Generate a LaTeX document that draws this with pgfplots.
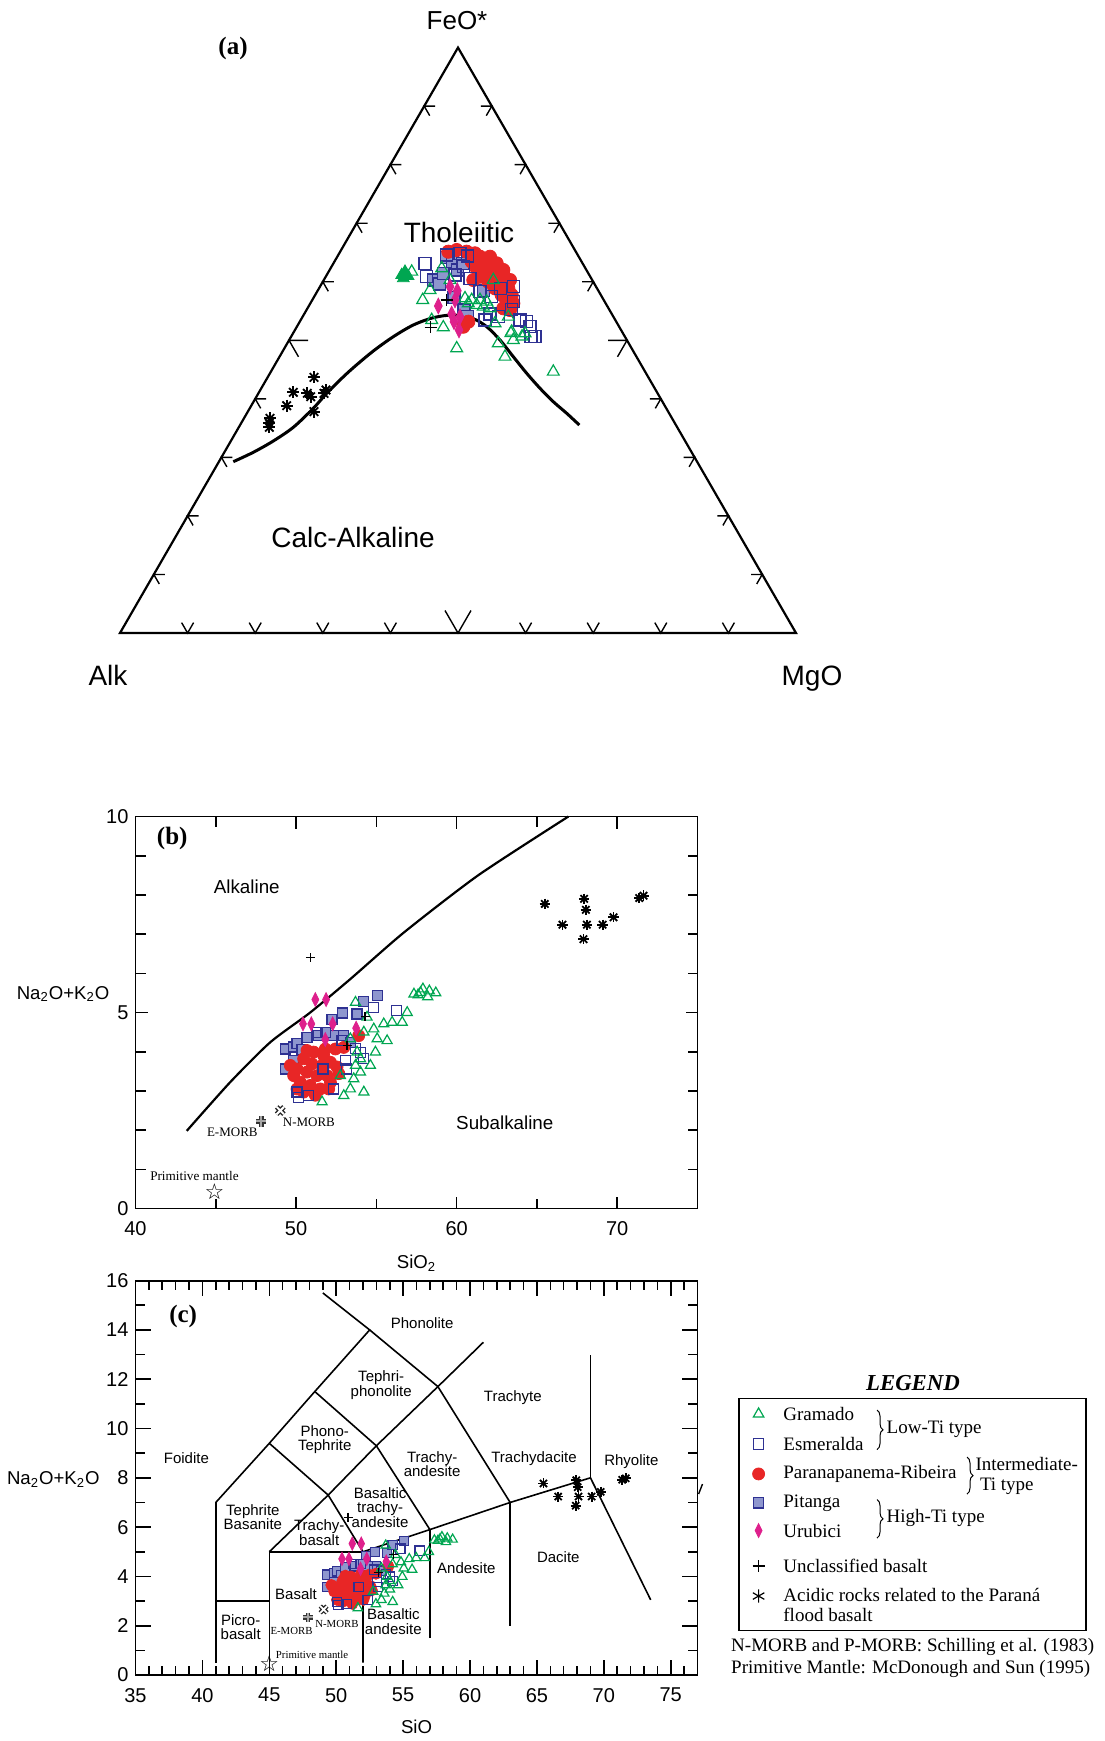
\documentclass[border=0pt]{standalone}
\usepackage{pgfplots}
\pgfplotsset{compat=1.18}
\usepackage{pgfplotstable}
\usepackage{fontspec}
\setmainfont{Liberation Sans}
\newfontfamily\seriffont{Liberation Serif}
\newfontfamily\dejavu{DejaVu Sans}
\usetikzlibrary{decorations.pathreplacing}
\definecolor{cgreen}{RGB}{0,166,81}
\definecolor{cblue}{RGB}{46,49,146}
\definecolor{cred}{RGB}{232,38,38}
\definecolor{cpit}{RGB}{142,150,206}
\definecolor{cmag}{RGB}{222,32,140}

% ---------- panel (a): ternary, cartesian coordinates of the triangle (base = 676) ----------
\pgfplotstableread{
X Y
113.3 171.3
133.3 180.7
153.3 192
173.3 205.7
193.3 224.7
206.7 239.7
220 253
233.3 265.3
253.3 282
273.3 296.3
293.3 308
313.3 315.3
333.3 318
353.3 314.3
366.7 306.3
380 293
393.3 276.3
406.7 259.7
420 244.7
433.3 231.3
446.7 219.7
459.3 208
}\curveA
\pgfplotstableread{
X Y
291.7 361.3
321.7 364.7
310 343
302.7 333
330 353
373.3 353
345 334.7
351.7 333
360 333
366.7 331.3
356.7 328
370 324.7
311.7 313
323.3 305.7
336.7 284.7
375 309.7
388.3 316.3
391.7 301.3
378.3 289.7
385 276.3
393.3 293
405 299.7
433.3 261.3
348.3 329.7
363.3 326.3
390.9 299.8
402 296.5
}\gramA
\pgfplotstableread{
X Y
281.7 358
285 361.3
283.3 354.7
288 357
}\gramAf
\pgfplotstableread{
X Y
305 369.7
306.7 356.3
326.7 378
340 379.7
347.3 377
343.3 366.3
335 358
360 341.3
371.7 336.3
380.7 344.7
393.3 331.3
391.7 323.7
370 319
365 313
378.3 316.3
400 313
410 306.3
415 296.3
406.7 311.3
350 354.7
393.3 346.3
410.9 296.5
}\esmA
\pgfplotstableread{
X Y
326.7 375.7
332.7 371.3
313.3 353
319.3 349
337.3 363
342.7 369.7
334 335.7
344 323
347.3 316.3
363.3 342.3
323.3 359.7
}\pitA
\pgfplotstableread{
X Y
328.3 381.3
336.7 383
346.7 381.3
355 379.7
360 376.3
365 373
370 368
375 363
380 358
385 351.3
388.3 344.7
391.7 338
393.3 329.7
386.7 331.3
381.7 338
375 344.7
368.3 351.3
361.7 358
356.7 364.7
351.7 371.3
366.7 361.3
373.3 354.7
380 348
385 341.3
390 323
383.3 324.7
343.3 306.3
348.3 311.3
360 356.3
353.3 353
370 376.3
376.7 369.7
383.3 363
390 353
}\parA
\pgfplotstableread{
X Y
318.3 327
330 346.3
337.3 342.3
335 333
340 316.3
331.7 319
339 303
334 311.3
}\uruA
\pgfplotstableread{
X Y
326.7 333
310.7 305.7
}\uncA
\pgfplotstableread{
X Y
194 255.7
173.3 240.7
187.3 239.7
190.7 236.3
206 243
204 239.7
166.7 227.3
194 221.3
150 214.7
149.3 209.7
149.3 205.7
}\acidA

% ---------- panels (b) and (c): SiO2 vs Na2O+K2O ----------
\pgfplotstableread{
S A
43.19 1.98
45.89 3.22
48.39 4.24
50.88 5.00
53.37 5.85
56.71 7.04
61.34 8.50
66.96 10.0
}\alkline
\pgfplotstableread{
S A
51.62 2.72
52.97 2.88
54.22 2.97
52.76 3.39
53.38 3.05
53.70 3.65
54.01 3.48
53.59 3.31
54.01 3.82
53.80 3.99
54.94 3.99
55.05 4.33
55.67 4.28
54.84 4.58
55.46 4.71
55.98 4.75
56.61 4.75
56.92 5.00
53.70 5.26
54.42 4.88
53.38 4.33
57.34 5.47
57.75 5.51
54.22 4.50
54.63 3.65
57.90 5.60
58.30 5.55
58.70 5.50
58.20 5.40
57.60 5.45
}\gramB
\pgfplotstableread{
S A
54.80 5.13
56.23 5.05
51.68 3.56
50.16 2.84
50.78 2.88
52.34 3.05
53.14 3.56
54.22 3.82
54.01 3.99
53.70 4.09
52.86 4.28
51.30 4.50
53.07 3.78
50.06 2.97
}\esmB
\pgfplotstableread{
S A
49.33 4.07
49.85 4.12
50.06 4.20
50.37 4.06
49.85 3.78
49.33 3.56
50.68 4.37
51.41 4.41
52.24 4.82
52.91 4.99
53.80 4.96
54.22 5.28
55.05 5.43
52.97 4.41
52.34 4.41
51.82 4.50
53.38 4.24
}\pitB
\pgfplotstableread{
S A
50.47 3.82
51.10 3.99
51.72 3.90
52.14 3.73
52.55 3.61
50.06 3.56
50.68 3.48
51.30 3.39
51.93 3.39
50.26 3.22
50.89 3.14
51.51 3.05
52.14 3.22
49.85 3.39
50.47 2.97
51.20 2.89
52.03 3.05
52.66 3.44
49.64 3.65
51.62 3.65
50.99 3.69
52.45 4.07
53.90 4.41
52.97 4.11
50.06 3.05
51.82 4.07
50.68 4.03
}\parB
\pgfplotstableread{
S A
51.20 5.33
51.87 5.33
50.43 4.71
50.95 4.71
52.28 4.71
53.74 4.60
51.82 4.31
}\uruB
\pgfplotstableread{
S A
50.89 6.40
54.30 4.90
53.18 4.16
}\uncB
\pgfplotstableread{
S A
65.49 7.77
67.94 7.90
68.05 7.62
66.59 7.24
68.11 7.24
69.09 7.24
69.77 7.43
67.90 6.87
71.37 7.92
71.64 7.98
}\acidB

\pgfplotsset{
  gramst/.style={only marks, mark=triangle, cgreen, mark size=#1, line width=0.6pt},
  esmst/.style={only marks, mark=square, cblue, mark size=#1, line width=0.6pt},
  pitst/.style={only marks, mark=square*, mark size=#1, mark options={draw=cblue, fill=cpit, line width=0.6pt}},
  parst/.style={only marks, mark=*, mark size=#1, mark options={draw=cred, fill=cred}},
  urust/.style={only marks, mark=diamond*, mark size=#1, mark options={draw=cmag, fill=cmag, yscale=1.5}},
  uncst/.style={only marks, mark=+, black, mark size=#1, line width=0.7pt},
  acidst/.style={only marks, black, mark size=#1, line width=0.9pt},
}

\begin{document}
\begin{tikzpicture}
\useasboundingbox (0,0) rectangle (552pt,-870.5pt);

% ================= (a) =================
\begin{axis}[at={(60pt,-316.5pt)}, anchor=south west, scale only axis,
  width=338pt, height=292.7pt, xmin=0, xmax=676, ymin=0, ymax=585.4,
  hide axis, clip=false]
\draw[line width=1.1pt, line join=miter] (0,0) -- (676,0) -- (338,585.4) -- cycle;
\pgfplotsinvokeforeach{1,2,3,4,6,7,8,9}{
  \draw[line width=0.7pt] ({67.6*#1-6},10.4) -- ({67.6*#1},0) -- ({67.6*#1+6},10.4);
  \draw[line width=0.7pt] ({33.8*#1+11},{58.54*#1}) -- ({33.8*#1},{58.54*#1}) -- ({33.8*#1+5.5},{58.54*#1-9.5});
  \draw[line width=0.7pt] ({676-33.8*#1-11},{58.54*#1}) -- ({676-33.8*#1},{58.54*#1}) -- ({676-33.8*#1-5.5},{58.54*#1-9.5});
}
\draw[line width=0.7pt] (325,22.5) -- (338,0) -- (351,22.5);
\draw[line width=0.7pt] (188,292.7) -- (169,292.7) -- (178.5,276.2);
\draw[line width=0.7pt] (488,292.7) -- (507,292.7) -- (497.5,276.2);
\addplot[black, line width=1.5pt, smooth, tension=0.5] table[x=X,y=Y] {\curveA};
\addplot[pitst=3pt] table[x=X,y=Y] {\pitA};
\addplot[parst=3.3pt] table[x=X,y=Y] {\parA};
\addplot[esmst=3pt] table[x=X,y=Y] {\esmA};
\addplot[gramst=3.4pt] table[x=X,y=Y] {\gramA};
\addplot[only marks, mark=triangle*, mark size=3.4pt, mark options={draw=cgreen, fill=cgreen}] table[x=X,y=Y] {\gramAf};
\addplot[urust=2.6pt] table[x=X,y=Y] {\uruA};
\addplot[uncst=3pt] table[x=X,y=Y] {\uncA};
\addplot[acidst=3pt, mark=+] table[x=X,y=Y] {\acidA};
\addplot[acidst=3pt, mark=x] table[x=X,y=Y] {\acidA};
\end{axis}

% ================= (b) =================
\begin{axis}[at={(67.75pt,-604.25pt)}, anchor=south west, scale only axis,
  width=281pt, height=196pt, xmin=40, xmax=75, ymin=0, ymax=10,
  xtick={40,50,60,70}, minor xtick={45,55,65},
  ytick={0,5,10}, minor ytick={1,2,3,4,6,7,8,9},
  tick align=inside, major tick length=6pt, minor tick length=5pt,
  tick style={black, line width=0.8pt},
  axis line style={line width=0.9pt},
  ticklabel style={font=\fontsize{10}{12}\selectfont},
  xticklabel style={yshift=-3pt},
  /pgf/number format/assume math mode=true,
  clip=false]
\addplot[black, line width=1.1pt, smooth, tension=0.4] table[x=S,y=A] {\alkline};
\addplot[pitst=2.5pt] table[x=S,y=A] {\pitB};
\addplot[parst=3pt] table[x=S,y=A] {\parB};
\addplot[esmst=2.5pt] table[x=S,y=A] {\esmB};
\addplot[gramst=2.9pt] table[x=S,y=A] {\gramB};
\addplot[urust=2.3pt] table[x=S,y=A] {\uruB};
\addplot[uncst=2.2pt] table[x=S,y=A] {\uncB};
\addplot[acidst=2.6pt, mark=+] table[x=S,y=A] {\acidB};
\addplot[acidst=2.6pt, mark=x] table[x=S,y=A] {\acidB};
\addplot[only marks, mark=+, mark size=2.6pt, line width=2.4pt, black!80] coordinates {(47.83,2.22)};
\addplot[only marks, mark=+, mark size=2.6pt, line width=1.0pt, black!35] coordinates {(47.83,2.22)};
\addplot[only marks, mark=x, mark size=2.6pt, line width=2.4pt, black!85] coordinates {(49.02,2.50)};
\addplot[only marks, mark=x, mark size=2.6pt, line width=1.0pt, white] coordinates {(49.02,2.50)};
\addplot[only marks, mark=text, text mark={\dejavu\fontsize{11}{11}\selectfont ☆}] coordinates {(44.92,0.42)};
\node[font={\seriffont\bfseries\fontsize{12.5}{14}\selectfont}] at (42.29,9.45) {(b)};
\node[font=\fontsize{9.4}{11}\selectfont] at (46.93,8.2) {Alkaline};
\node[font=\fontsize{9.4}{11}\selectfont] at (63.0,2.18) {Subalkaline};
\node[font={\seriffont\fontsize{6.5}{7}\selectfont}] at (46.03,1.95) {E-MORB};
\node[font={\seriffont\fontsize{6.5}{7}\selectfont}] at (50.8,2.21) {N-MORB};
\node[font={\seriffont\fontsize{6.6}{7}\selectfont}] at (43.67,0.84) {Primitive mantle};
\end{axis}

% ================= (c) =================
\begin{axis}[at={(67.75pt,-837.5pt)}, anchor=south west, scale only axis,
  width=281pt, height=197.2pt, xmin=35, xmax=77, ymin=0, ymax=16,
  xtick={35,40,...,75}, minor xtick={36,37,38,39,41,42,43,44,46,47,48,49,51,52,53,54,56,57,58,59,61,62,63,64,66,67,68,69,71,72,73,74,76},
  ytick={0,2,...,16}, minor ytick={1,3,...,15},
  tick align=inside, major tick length=7.5pt, minor tick length=4.5pt,
  tick style={black, line width=0.8pt},
  axis line style={line width=0.9pt},
  ticklabel style={font=\fontsize{10}{12}\selectfont},
  xticklabel style={yshift=-3pt},
  /pgf/number format/assume math mode=true,
  clip=false]
\addplot[black, line width=0.8pt] coordinates {(41,0.5) (41,7)};
\addplot[black, line width=0.8pt] coordinates {(41,3) (45,3)};
\addplot[black, line width=0.8pt] coordinates {(45,0.5) (45,5) (52,5)};
\addplot[black, line width=0.8pt] coordinates {(52,0.5) (52,5) (57,5.9) (63,7) (69,8) (73.5,3.05)};
\addplot[black, line width=0.8pt] coordinates {(57,1.5) (57,5.9)};
\addplot[black, line width=0.8pt] coordinates {(63,2) (63,7)};
\addplot[black, line width=0.8pt] coordinates {(69,8) (69,13)};
\addplot[black, line width=0.8pt] coordinates {(41,7) (45,9.4) (48.4,11.5) (52.5,14) (49,15.5)};
\addplot[black, line width=0.8pt] coordinates {(45,5) (49.4,7.3) (53,9.3) (57.6,11.7) (61,13.5)};
\addplot[black, line width=0.8pt] coordinates {(45,9.4) (49.4,7.3) (52,5)};
\addplot[black, line width=0.8pt] coordinates {(48.4,11.5) (53,9.3) (57,5.9)};
\addplot[black, line width=0.8pt] coordinates {(52.5,14) (57.6,11.7) (63,7)};
\addplot[pitst=2.3pt] table[x=S,y=A] {\pitB};
\addplot[parst=2.8pt] table[x=S,y=A] {\parB};
\addplot[esmst=2.3pt] table[x=S,y=A] {\esmB};
\addplot[gramst=2.7pt] table[x=S,y=A] {\gramB};
\addplot[urust=2.2pt] table[x=S,y=A] {\uruB};
\addplot[uncst=2.2pt] table[x=S,y=A] {\uncB};
\addplot[acidst=2.5pt, mark=+] table[x=S,y=A] {\acidB};
\addplot[acidst=2.5pt, mark=x] table[x=S,y=A] {\acidB};
\addplot[only marks, mark=+, mark size=2.4pt, line width=2.2pt, black!80] coordinates {(47.9,2.34)};
\addplot[only marks, mark=+, mark size=2.4pt, line width=0.9pt, black!35] coordinates {(47.9,2.34)};
\addplot[only marks, mark=x, mark size=2.4pt, line width=2.2pt, black!85] coordinates {(49.06,2.66)};
\addplot[only marks, mark=x, mark size=2.4pt, line width=0.9pt, white] coordinates {(49.06,2.66)};
\addplot[only marks, mark=text, text mark={\dejavu\fontsize{11}{11}\selectfont ☆}] coordinates {(45.0,0.45)};
\node[font={\seriffont\bfseries\fontsize{12.5}{14}\selectfont}] at (38.56,14.56) {(c)};
\begin{scope}[every node/.style={font=\fontsize{7.5}{7.3}\selectfont, align=center, inner sep=0pt}]
\node at (56.42,14.29) {Phonolite};
\node at (53.36,11.77) {Tephri-\\phonolite};
\node at (63.2,11.27) {Trachyte};
\node at (38.8,8.79) {Foidite};
\node at (49.14,9.55) {Phono-\\Tephrite};
\node at (57.17,8.56) {Trachy-\\andesite};
\node at (64.78,8.79) {Trachydacite};
\node at (72.06,8.65) {Rhyolite};
\node at (53.28,6.8) {Basaltic\\trachy-\\andesite};
\node at (43.77,6.4) {Tephrite\\Basanite};
\node at (48.73,5.77) {Trachy-\\basalt};
\node at (59.73,4.33) {Andesite};
\node at (66.6,4.78) {Dacite};
\node at (47.0,3.29) {Basalt};
\node at (42.86,1.94) {Picro-\\basalt};
\node at (54.27,2.16) {Basaltic\\andesite};
\end{scope}
\node[font={\seriffont\fontsize{5.4}{6}\selectfont}, inner sep=0pt] at (46.66,1.80) {E-MORB};
\node[font={\seriffont\fontsize{5.4}{6}\selectfont}, inner sep=0pt] at (50.05,2.07) {N-MORB};
\node[font={\seriffont\fontsize{5.4}{6}\selectfont}, inner sep=0pt] at (48.2,0.81) {Primitive mantle};
\end{axis}

% ================= overlay: titles, axis names, legend =================
\begin{axis}[at={(0pt,0pt)}, anchor=north west, scale only axis,
  width=552pt, height=870.5pt, xmin=0, xmax=1104, ymin=0, ymax=1741,
  y dir=reverse, hide axis, clip=false]
\node[font=\fontsize{13}{15}\selectfont] at (457,21) {FeO*};
\node[font={\seriffont\bfseries\fontsize{12.5}{14}\selectfont}] at (233,48) {(a)};
\node[font=\fontsize{14}{16}\selectfont] at (459,232) {Tholeiitic};
\node[font=\fontsize{14}{16}\selectfont] at (353,537) {Calc-Alkaline};
\node[font=\fontsize{14}{16}\selectfont] at (108,675) {Alk};
\node[font=\fontsize{14}{16}\selectfont] at (812,679) {MgO};
\node[font=\fontsize{9.3}{11}\selectfont] at (63,994) {Na\textsubscript{2}O+K\textsubscript{2}O};
\node[font=\fontsize{9.3}{11}\selectfont] at (416.5,1263) {SiO\textsubscript{2}};
\node[font=\fontsize{9.3}{11}\selectfont] at (53.3,1479.5) {Na\textsubscript{2}O+K\textsubscript{2}O};
\node[font=\fontsize{9.3}{11}\selectfont] at (416.5,1727) {SiO};
\draw[line width=0.7pt] (698.6,1494) -- (702.5,1484);
% legend
\node[font={\seriffont\bfseries\itshape\fontsize{11.4}{13}\selectfont}] at (913,1383) {LEGEND};
\draw[line width=0.9pt] (738.6,1398.4) rectangle (1086.3,1630.5);
\addplot[gramst=3pt] coordinates {(758.6,1413.9)};
\addplot[esmst=2.6pt] coordinates {(758.6,1443.9)};
\addplot[parst=3pt] coordinates {(758.6,1473.9)};
\addplot[pitst=2.6pt] coordinates {(758.6,1502.8)};
\addplot[urust=2.3pt] coordinates {(758.6,1530.5)};
\addplot[uncst=3pt] coordinates {(758.6,1566.1)};
\addplot[only marks, mark=asterisk, black, mark size=3.3pt, line width=0.6pt] coordinates {(758.6,1596)};
\begin{scope}[every node/.style={font={\seriffont\fontsize{9.5}{11}\selectfont}, anchor=west, inner sep=0pt}]
\node at (783,1413.9) {Gramado};
\node at (783,1443.9) {Esmeralda};
\node at (783,1473.9) {Paranapanema-Ribeira};
\node at (783,1502.8) {Pitanga};
\node at (783,1530.5) {Urubici};
\node at (783,1566.1) {Unclassified basalt};
\node at (783,1595) {Acidic rocks related to the Paraná};
\node at (783,1614.9) {flood basalt};
\node at (886.3,1429.5) {Low-Ti type};
\node at (975.2,1464) {Intermediate-};
\node at (979.6,1486) {Ti type};
\node at (886.3,1518.3) {High-Ti type};
\node at (730.8,1647.2) {N-MORB and P-MORB: Schilling et al. (1983)};
\node at (730.8,1669.4) {Primitive Mantle: McDonough and Sun (1995)};
\end{scope}
\draw[line width=0.5pt, decorate, decoration={brace, amplitude=3pt}] (877,1410) -- (877,1449.5);
\draw[line width=0.5pt, decorate, decoration={brace, amplitude=3pt}] (967,1457) -- (967,1494);
\draw[line width=0.5pt, decorate, decoration={brace, amplitude=3pt}] (877,1499.5) -- (877,1538);
\end{axis}
\end{tikzpicture}
\end{document}
